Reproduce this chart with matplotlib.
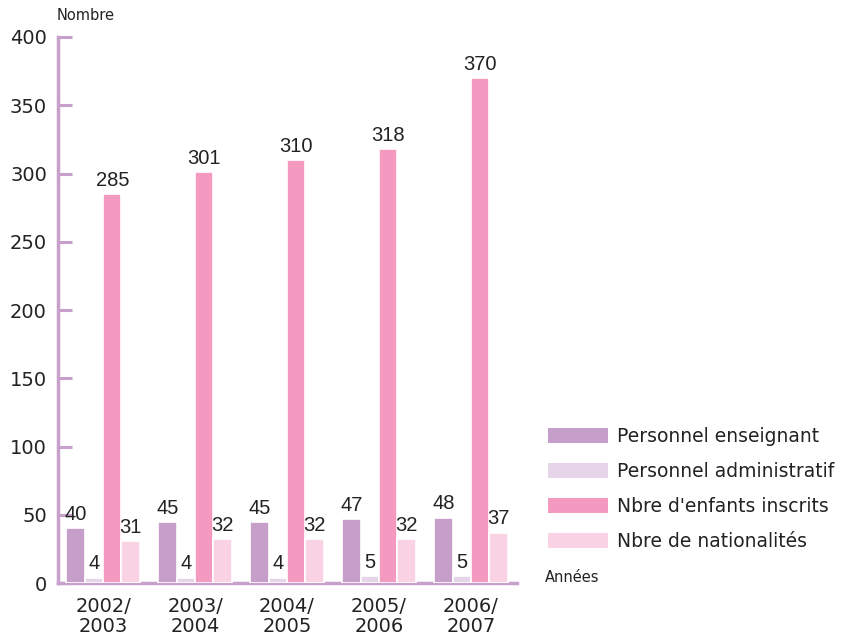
import numpy as np
import matplotlib.pyplot as plt
from matplotlib.patches import Patch

years = ['2002/\n2003', '2003/\n2004', '2004/\n2005', '2005/\n2006', '2006/\n2007']
enseignant = [40, 45, 45, 47, 48]
administratif = [4, 4, 4, 5, 5]
enfants = [285, 301, 310, 318, 370]
nationalites = [31, 32, 32, 32, 37]

series = [enseignant, administratif, enfants, nationalites]
names = ['Personnel enseignant', 'Personnel administratif',
         "Nbre d'enfants inscrits", 'Nbre de nationalités']
colors = ['#C59FC9', '#E6D5E8', '#F49AC1', '#F9D3E3']
axcol = '#C8A0CC'
txt = '#222222'

fig = plt.figure(figsize=(8.46, 6.39), dpi=100)
ax = fig.add_axes([0.0686, 0.0876, 0.5425, 0.8545])

x = np.arange(len(years))
w = 0.2
for i, (vals, c) in enumerate(zip(series, colors)):
    pos = x + (i - 1.5) * w
    ax.bar(pos, vals, width=w, color=c, edgecolor='white', linewidth=1.2, zorder=3)
    for p, v in zip(pos, vals):
        ax.text(p, v + 3, str(v), ha='center', va='bottom', fontsize=14.5,
                color=txt, family='Liberation Sans', zorder=4)

ax.set_xlim(-0.49, 4.5)
ax.set_ylim(0, 400)
ax.set_yticks(range(0, 401, 50))
ax.set_xticks(x)
ax.set_xticklabels(years, fontsize=14, color=txt, linespacing=1.1)
ax.tick_params(axis='x', length=0, pad=10)
ax.tick_params(axis='y', direction='in', length=10, width=2.2, color=axcol,
               labelsize=14, labelcolor=txt, pad=8)
for s in ['top', 'right']:
    ax.spines[s].set_visible(False)
for s in ['left', 'bottom']:
    ax.spines[s].set_color(axcol)
    ax.spines[s].set_linewidth(2.5)

fig.text(57 / 846, 1 - 16 / 639, 'Nombre', fontsize=10.5, color=txt, va='center')
fig.text(545 / 846, 1 - 578 / 639, 'Années', fontsize=10.5, color=txt, va='center')

handles = [Patch(facecolor=c, edgecolor='none') for c in colors]
fig.legend(handles, names, loc='upper left', bbox_to_anchor=(548 / 846, 1 - 427 / 639),
           frameon=False, fontsize=13.5, handlelength=3.2, handleheight=0.9,
           handletextpad=0.48, labelspacing=0.85, borderaxespad=0,
           borderpad=0, labelcolor=txt)

fig.savefig('out.png', dpi=100)
